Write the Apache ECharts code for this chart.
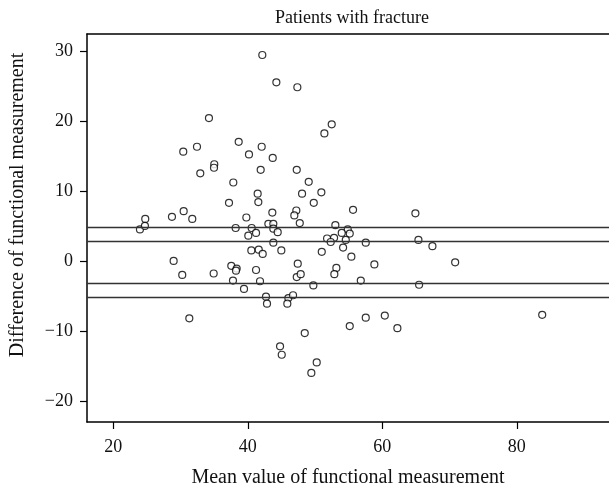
<!DOCTYPE html>
<html>
<head>
<meta charset="utf-8">
<script src="https://cdn.jsdelivr.net/npm/echarts@6/dist/echarts.min.js"></script>
<style>
  html, body { margin: 0; padding: 0; background: #fff; }
  #main { width: 609px; height: 487px; }
</style>
</head>
<body>
<div id="main"></div>
<script>
// mean value (x) and difference (y) of each patient
var meanVals = [
  42.16, 44.25, 47.37, 34.23, 52.48, 51.39, 38.65, 32.45, 42.07, 30.41,
  40.18, 43.71, 35.02, 34.98, 32.94, 41.92, 47.28, 37.85, 49.06, 41.47,
  48.07, 50.94, 37.21, 41.57, 49.81, 43.65, 47.22, 46.92, 55.65, 64.92,
  24.76, 28.73, 30.47, 31.75, 39.79, 23.97, 24.71, 38.2, 40.58, 41.23,
  40.08, 43.06, 43.8, 43.8, 44.45, 43.8, 47.73, 53.02, 54.86, 55.16,
  53.97, 51.79, 52.83, 52.33, 54.57, 54.17, 57.54, 65.37, 67.45, 40.53,
  41.63, 42.22, 44.99, 51.0, 55.4, 28.98, 30.26, 34.93, 37.55, 38.35,
  38.25, 41.23, 47.43, 37.8, 41.82, 47.28, 47.87, 53.17, 52.87, 58.82,
  70.83, 49.75, 56.8, 65.47, 39.44, 42.71, 42.86, 46.03, 45.88, 46.73,
  31.31, 48.47, 44.8, 45.05, 50.25, 49.45, 57.54, 55.16, 60.37, 62.24,
  83.77
];
var diffVals = [
  29.4, 25.5, 24.8, 20.4, 19.5, 18.2, 17.0, 16.3, 16.3, 15.6,
  15.2, 14.7, 13.8, 13.3, 12.5, 13.0, 13.0, 11.2, 11.3, 9.6,
  9.6, 9.8, 8.3, 8.4, 8.3, 6.9, 7.2, 6.5, 7.3, 6.8,
  6.0, 6.3, 7.1, 6.0, 6.2, 4.5, 5.0, 4.7, 4.7, 4.0,
  3.6, 5.3, 5.3, 4.6, 4.1, 2.6, 5.4, 5.1, 4.5, 3.9,
  4.0, 3.2, 3.3, 2.7, 3.0, 1.9, 2.6, 3.0, 2.1, 1.5,
  1.6, 1.0, 1.5, 1.3, 0.6, 0.0, -2.0, -1.8, -0.7, -1.1,
  -1.4, -1.3, -0.4, -2.8, -2.9, -2.3, -1.9, -1.0, -1.9, -0.5,
  -0.2, -3.5, -2.8, -3.4, -4.0, -5.1, -6.1, -5.3, -6.1, -4.9,
  -8.2, -10.3, -12.2, -13.4, -14.5, -16.0, -8.1, -9.3, -7.8, -9.6,
  -7.7
];
// horizontal reference lines
var refLines = [4.76, 2.76, -3.24, -5.24];
var xTicks = [20, 40, 60, 80];
var yTicks = [-20, -10, 0, 10, 20, 30];

var myChart = echarts.init(document.getElementById('main'));
var serif = 'Liberation Serif, DejaVu Serif, serif';

var points = meanVals.map(function (x, i) { return [x, diffVals[i]]; });

myChart.setOption({
  animation: false,
  title: {
    text: 'Patients with fracture',
    left: 347,
    top: 4,
    textAlign: 'center',
    textStyle: { fontFamily: serif, fontSize: 18, fontWeight: 'normal', color: '#111' }
  },
  grid: { left: 87, right: 0, top: 34, bottom: 65, containLabel: false, outerBoundsMode: 'none' },
  xAxis: [{
    type: 'value',
    min: 16.1,
    max: 93.7,
    name: 'Mean value of functional measurement',
    nameLocation: 'middle',
    nameGap: 46,
    nameTextStyle: { fontFamily: serif, fontSize: 20, color: '#111' },
    splitLine: { show: false },
    axisLine: { onZero: false, lineStyle: { color: '#000', width: 1.5 } },
    axisTick: { customValues: xTicks, length: 7, lineStyle: { color: '#000', width: 1.2 } },
    axisLabel: { customValues: xTicks, margin: 16, fontFamily: serif, fontSize: 18, color: '#111' }
  }, {
    // top border only
    type: 'value',
    position: 'top',
    min: 16.1,
    max: 93.7,
    splitLine: { show: false },
    axisLine: { show: true, onZero: false, lineStyle: { color: '#000', width: 1.5 } },
    axisTick: { show: false },
    axisLabel: { show: false }
  }],
  yAxis: {
    type: 'value',
    min: -23,
    max: 32.4,
    name: 'Difference of functional measurement',
    nameLocation: 'middle',
    nameGap: 59,
    nameTextStyle: { fontFamily: serif, fontSize: 20, color: '#111', padding: [0, 0, 0, 46] },
    splitLine: { show: false },
    axisLine: { show: true, onZero: false, lineStyle: { color: '#000', width: 1.5 } },
    axisTick: { show: true, customValues: yTicks, length: 7, lineStyle: { color: '#000', width: 1.2 } },
    axisLabel: { customValues: yTicks, margin: 14, fontFamily: serif, fontSize: 18, color: '#111',
      formatter: function (v) { return v < 0 ? '\u2212' + Math.abs(v) : String(v); } }
  },
  series: [{
    type: 'scatter',
    data: points,
    symbol: 'circle',
    symbolSize: 7,
    itemStyle: { color: '#fff', borderColor: '#000', borderWidth: 1.2 },
    markLine: {
      silent: true,
      symbol: 'none',
      label: { show: false },
      lineStyle: { color: '#333', type: 'solid', width: 1.4 },
      data: refLines.map(function (v) { return { yAxis: v }; })
    }
  }]
});
</script>
</body>
</html>
